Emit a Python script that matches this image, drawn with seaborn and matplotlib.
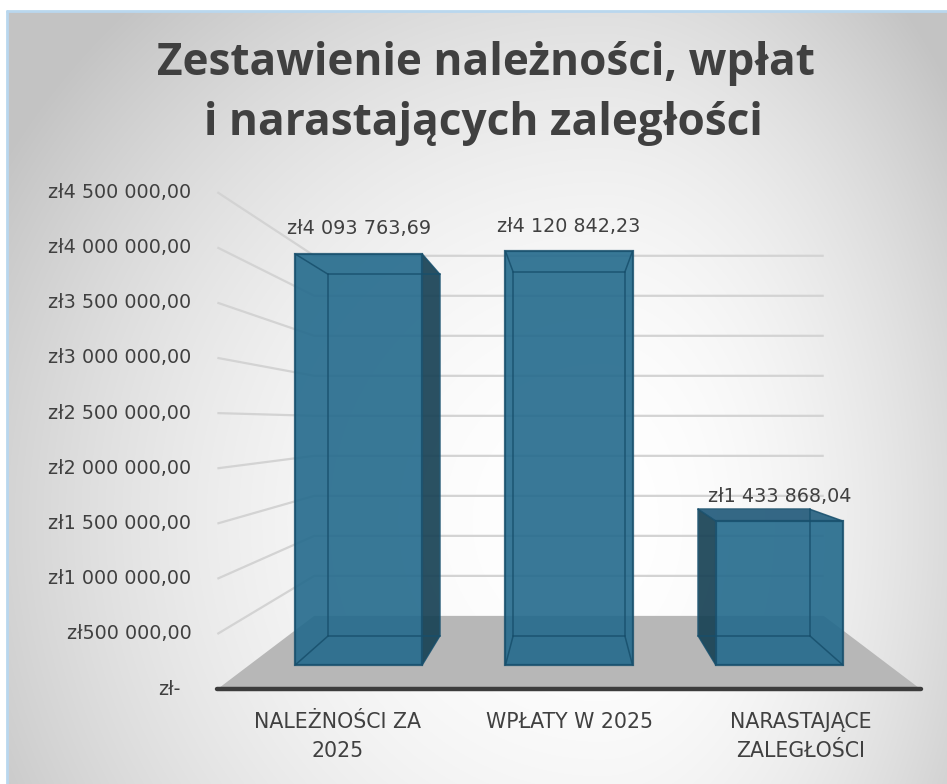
import numpy as np
import matplotlib
matplotlib.use("Agg")
import matplotlib.pyplot as plt
import seaborn as sns
import pandas as pd
from matplotlib.patches import Polygon
from matplotlib.lines import Line2D

# ---------------- data ----------------
categories = ["NALEŻNOŚCI ZA\n2025", "WPŁATY W 2025", "NARASTAJĄCE\nZALEGŁOŚCI"]
values = [4093763.69, 4120842.23, 1433868.04]
value_labels = ["zł4 093 763,69", "zł4 120 842,23", "zł1 433 868,04"]
tick_values = [0, 500000, 1000000, 1500000, 2000000, 2500000,
               3000000, 3500000, 4000000, 4500000]
tick_labels = ["zł-", "zł500 000,00", "zł1 000 000,00", "zł1 500 000,00",
               "zł2 000 000,00", "zł2 500 000,00", "zł3 000 000,00",
               "zł3 500 000,00", "zł4 000 000,00", "zł4 500 000,00"]
title_lines = ["Zestawienie należności, wpłat", "i narastających zaległości"]

# ---------------- layout ----------------
W, H = 947, 784
sns.set_theme(style="white")
plt.rcParams["font.family"] = ["DejaVu Sans"]
TXT = "#404040"

fig = plt.figure(figsize=(W / 100, H / 100), dpi=100)

# background (radial gradient) inside a light-blue border
yy, xx = np.mgrid[0:H, 0:W].astype(float)
cx, cy = 600.0, 520.0
rx = np.where(xx < cx, 700.0, 450.0)
t = np.sqrt(((xx - cx) / rx) ** 2 + ((yy - cy) / 700.0) ** 2)
t = np.clip(t, 0, 1.0)
g = 255 - 60 * t ** 2
img = np.dstack([g, g, g]) / 255.0
img[:11, :, :] = 1.0
img[:, :7, :] = 1.0
ax_bg = fig.add_axes([0, 0, 1, 1], zorder=-5)
ax_bg.imshow(img, extent=(0, W, H, 0), aspect="auto", interpolation="bilinear")
ax_bg.set_xlim(0, W)
ax_bg.set_ylim(H, 0)
ax_bg.axis("off")
ax_bg.add_line(Line2D([7, 7], [11, H], color="#b9d7ee", lw=2))
ax_bg.add_line(Line2D([7, W], [11, 11], color="#b9d7ee", lw=2))

# main axes (front plane of bars), pseudo-3D perspective projection
VP_PX, VP_PY = 569.0, 423.0     # vanishing point (pixels from top-left)
CAT_PX = 210.3                  # pixels between categories (front plane)
BASE_PY = 665.0                 # zero line of front plane (px from top)
PX_PER_UNIT = 100.4e-6          # pixels per zł on front plane
S_BACK, S_WALL, S_FRONT = 0.88, 0.797, 1.10

ax = fig.add_axes([0, 0, 1, 1])
ax.set_facecolor("none")

df = pd.DataFrame({"cat": categories, "val": values})
FRONT_COLOR = "#236a8c"
EDGE = "#174f6c"
sns.barplot(data=df, x="cat", y="val", ax=ax, width=0.604, color=FRONT_COLOR,
            saturation=1, alpha=0.86, edgecolor=EDGE, linewidth=1.6, zorder=6)

ax.set_xlim(1 - VP_PX / CAT_PX, 1 + (W - VP_PX) / CAT_PX)
ax.set_ylim(-(H - BASE_PY) / PX_PER_UNIT, BASE_PY / PX_PER_UNIT)
ax.axis("off")

VPX, VPY = 1.0, (BASE_PY - VP_PY) / PX_PER_UNIT


def proj(x, y, s):
    return (VPX + (x - VPX) * s, VPY + (y - VPY) * s)


XL, XR = -0.52, 2.52

# walls: gridlines
for v in tick_values[1:]:
    a = proj(XL, v, S_FRONT)
    b = proj(XL, v, S_WALL)
    c = proj(XR, v, S_WALL)
    ax.plot([a[0], b[0], c[0]], [a[1], b[1], c[1]], color="#d3d3d3",
            lw=1.6, zorder=1, solid_capstyle="butt")

# floor
floor = [proj(XL, 0, S_FRONT), proj(XR, 0, S_FRONT),
         proj(XR, 0, S_WALL), proj(XL, 0, S_WALL)]
ax.add_patch(Polygon(floor, closed=True, facecolor="#b7b7b7",
                     edgecolor="none", zorder=2))
fa, fb = proj(XL, 0, S_FRONT), proj(XR, 0, S_FRONT)
ax.plot([fa[0], fb[0]], [fa[1], fb[1]], color="#3c3c3c", lw=3.2, zorder=3,
        solid_capstyle="round")

# 3D faces of bars
INNER = ("#2a6d8e", 0.30)
for p in list(ax.patches):
    if not hasattr(p, "get_width") or p.get_height() <= 0:
        continue
    x0, w, h = p.get_x(), p.get_width(), p.get_height()
    x1 = x0 + w
    F = [(x0, 0), (x1, 0), (x1, h), (x0, h)]
    B = [proj(x, y, S_BACK) for x, y in F]
    left_out = B[0][0] < F[0][0]
    right_out = B[1][0] > F[1][0]
    top_out = B[2][1] > F[2][1]
    faces = [
        (B, INNER),
        ([F[0], F[1], B[1], B[0]], INNER),
        ([F[3], F[2], B[2], B[3]], ("#1d5677", 0.85) if top_out else INNER),
        ([F[0], F[3], B[3], B[0]], ("#163f52", 0.88) if left_out else INNER),
        ([F[1], F[2], B[2], B[1]], ("#163f52", 0.88) if right_out else INNER),
    ]
    for pts, (col, al) in faces:
        ax.add_patch(Polygon(pts, closed=True, facecolor=col, alpha=al,
                             edgecolor="none", zorder=4))
    for i in range(4):
        j = (i + 1) % 4
        ax.plot([B[i][0], B[j][0]], [B[i][1], B[j][1]], color=EDGE, lw=1.1,
                alpha=0.85, zorder=7)
        ax.plot([F[i][0], B[i][0]], [F[i][1], B[i][1]], color=EDGE, lw=1.1,
                alpha=0.85, zorder=7)

# value labels
for i, (v, lab) in enumerate(zip(values, value_labels)):
    ax.annotate(lab, xy=(i, v), xytext=(0, 25), textcoords="offset pixels",
                ha="center", va="center", fontsize=13.8, color=TXT, zorder=9)

# y tick labels on the left wall
for v, lab in zip(tick_values, tick_labels):
    pt = proj(XL, v, S_FRONT)
    off = -37 if v == 0 else -26
    ax.annotate(lab, xy=pt, xytext=(off, 0), textcoords="offset pixels",
                ha="right", va="center", fontsize=13.8, color=TXT)

# category labels in front of the floor
for i, lab in enumerate(categories):
    pt = proj(i, 0, S_FRONT)
    ax.annotate(lab, xy=pt, xytext=(0, -23), textcoords="offset pixels",
                ha="center", va="top", fontsize=14.8, color=TXT,
                linespacing=1.55)

# title
fig.text(486 / W, 1 - 75 / H, title_lines[0], ha="center", va="baseline",
         fontsize=31.8, fontweight="bold", color=TXT,
         family=["Open Sans", "DejaVu Sans"])
fig.text(483 / W, 1 - 135 / H, title_lines[1], ha="center", va="baseline",
         fontsize=31.8, fontweight="bold", color=TXT,
         family=["Open Sans", "DejaVu Sans"])

fig.savefig("out.png", dpi=100)
